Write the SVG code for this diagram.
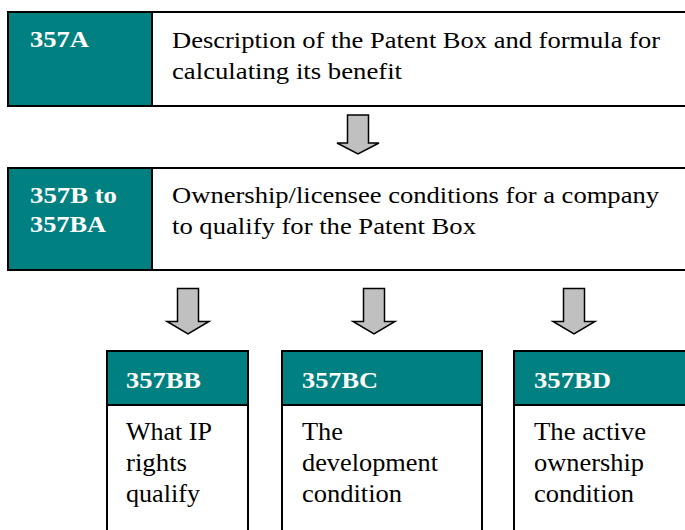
<svg xmlns="http://www.w3.org/2000/svg" width="685" height="530" viewBox="0 0 685 530">
<style>
.box{fill:#fff;stroke:#000;stroke-width:2}
.hd{fill:#008080;stroke:#000;stroke-width:2}
.t{font-family:"Liberation Serif","Times New Roman",serif;font-size:24px;fill:#000}
.b{font-size:26px}
.h{font-family:"Liberation Serif","Times New Roman",serif;font-size:24px;font-weight:bold;fill:#fff}
.arr{fill:#c0c0c0;stroke:#000;stroke-width:1.5;stroke-linejoin:miter}
</style>
<defs>
<path id="a" d="M-10.5,0 H10.5 V28 H21 L0,39 L-21,28 H-10.5 Z"/>
<path id="b" d="M-10.5,0 H10.5 V33 H21 L0,45.5 L-21,33 H-10.5 Z"/>
</defs>
<rect width="685" height="530" fill="#fff"/>
<g id="n357A">
<rect class="box" x="8" y="12" width="690" height="94"/>
<rect class="hd" x="8" y="12" width="144" height="94"/>
<text class="h" x="30" y="47" textLength="59" lengthAdjust="spacingAndGlyphs">357A</text>
<text class="t" x="172" y="48" textLength="488" lengthAdjust="spacingAndGlyphs">Description of the Patent Box and formula for</text>
<text class="t" x="172" y="79" textLength="230" lengthAdjust="spacingAndGlyphs">calculating its benefit</text>
</g>
<g id="n357B">
<rect class="box" x="8" y="168" width="690" height="102"/>
<rect class="hd" x="8" y="168" width="144" height="102"/>
<text class="h" x="30" y="203" textLength="87" lengthAdjust="spacingAndGlyphs">357B to</text>
<text class="h" x="30" y="232" textLength="76" lengthAdjust="spacingAndGlyphs">357BA</text>
<text class="t" x="172" y="203" textLength="487" lengthAdjust="spacingAndGlyphs">Ownership/licensee conditions for a company</text>
<text class="t" x="172" y="234" textLength="304" lengthAdjust="spacingAndGlyphs">to qualify for the Patent Box</text>
</g>
<g id="n357BB">
<rect class="box" x="107" y="351" width="141" height="190"/>
<rect class="hd" x="107" y="351" width="141" height="54"/>
<text class="h" x="126" y="388" textLength="75" lengthAdjust="spacingAndGlyphs">357BB</text>
<text class="t b" x="126" y="440" textLength="86" lengthAdjust="spacingAndGlyphs">What IP</text>
<text class="t b" x="126" y="471" textLength="61" lengthAdjust="spacingAndGlyphs">rights</text>
<text class="t b" x="126" y="502" textLength="74" lengthAdjust="spacingAndGlyphs">qualify</text>
</g>
<g id="n357BC">
<rect class="box" x="282" y="351" width="200" height="190"/>
<rect class="hd" x="282" y="351" width="200" height="54"/>
<text class="h" x="302" y="388" textLength="76" lengthAdjust="spacingAndGlyphs">357BC</text>
<text class="t b" x="302" y="440" textLength="41" lengthAdjust="spacingAndGlyphs">The</text>
<text class="t b" x="302" y="471" textLength="136" lengthAdjust="spacingAndGlyphs">development</text>
<text class="t b" x="302" y="502" textLength="100" lengthAdjust="spacingAndGlyphs">condition</text>
</g>
<g id="n357BD">
<rect class="box" x="514" y="351" width="190" height="190"/>
<rect class="hd" x="514" y="351" width="190" height="54"/>
<text class="h" x="534" y="388" textLength="77" lengthAdjust="spacingAndGlyphs">357BD</text>
<text class="t b" x="534" y="440" textLength="112" lengthAdjust="spacingAndGlyphs">The active</text>
<text class="t b" x="534" y="471" textLength="110" lengthAdjust="spacingAndGlyphs">ownership</text>
<text class="t b" x="534" y="502" textLength="100" lengthAdjust="spacingAndGlyphs">condition</text>
</g>
<g id="connectors">
<use href="#a" class="arr" transform="translate(358,115)"/>
<use href="#b" class="arr" transform="translate(188,288.5)"/>
<use href="#b" class="arr" transform="translate(374,288.5)"/>
<use href="#b" class="arr" transform="translate(574,288.5)"/>
</g>
</svg>
